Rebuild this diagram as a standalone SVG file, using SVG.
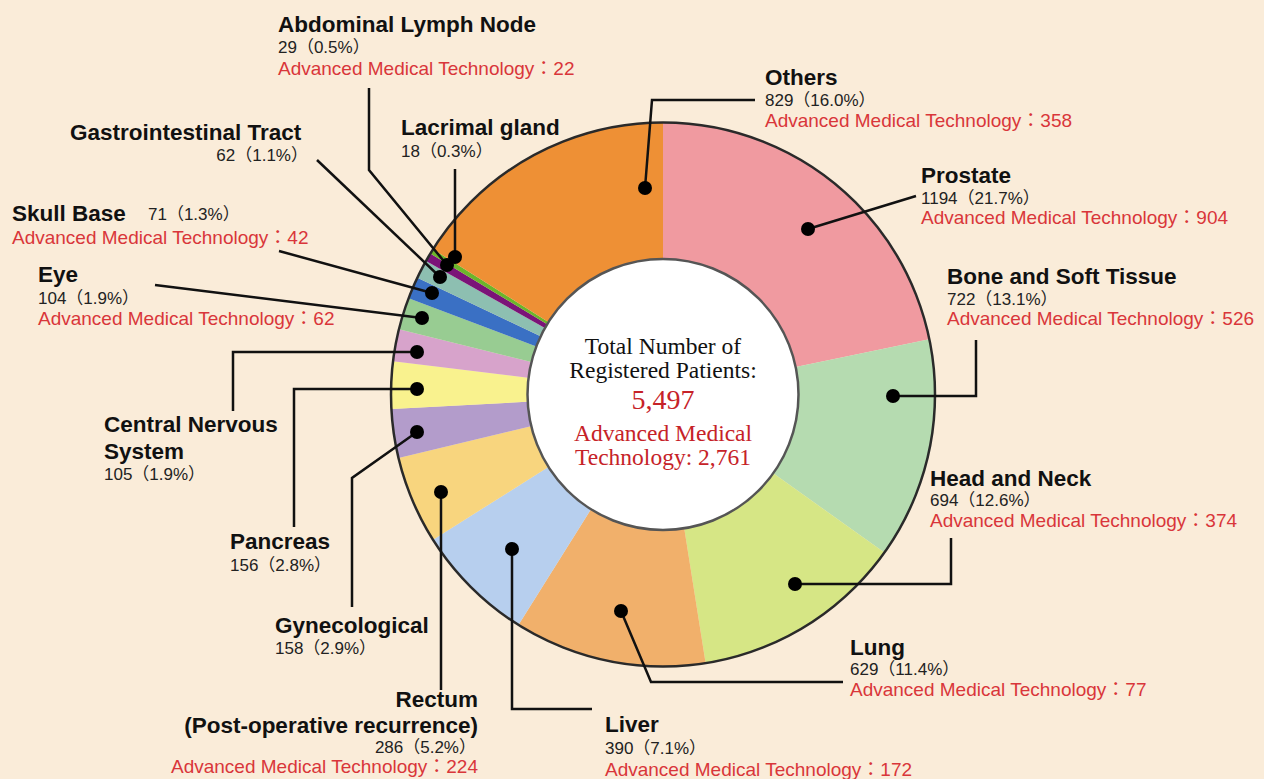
<svg xmlns="http://www.w3.org/2000/svg" width="1264" height="779" viewBox="0 0 1264 779">
<style>
.bg{fill:#faecd9}
.lbl{font-family:"Liberation Sans",Arial,sans-serif;font-weight:bold;font-size:22.5px;fill:#111}
.num{font-family:"Liberation Sans",Arial,"Noto Sans CJK JP",sans-serif;font-size:17px;fill:#222}
.red{font-family:"Liberation Sans",Arial,"Noto Sans CJK JP",sans-serif;font-size:19px;fill:#d9363a}
.ctr{font-family:"Liberation Serif","Times New Roman",serif;font-size:23.5px;fill:#111;text-anchor:middle}
.ctrred{fill:#c62228}
.lead{fill:none;stroke:#111;stroke-width:2.5;stroke-linejoin:miter}
.dot{fill:#000}
</style>
<rect class="bg" x="0" y="0" width="1264" height="779"/>
<g id="pie">
<path d="M663 394.5 L663 122.5 A272 272 0 0 1 929.32 339.23 Z" fill="#f09aa0"/>
<path d="M663 394.5 L929.32 339.23 A272 272 0 0 1 884.33 552.6 Z" fill="#b5dbb0"/>
<path d="M663 394.5 L884.33 552.6 A272 272 0 0 1 705.64 663.14 Z" fill="#d6e685"/>
<path d="M663 394.5 L705.64 663.14 A272 272 0 0 1 518.43 624.9 Z" fill="#f1b06b"/>
<path d="M663 394.5 L518.43 624.9 A272 272 0 0 1 433.03 539.76 Z" fill="#b7cfee"/>
<path d="M663 394.5 L433.03 539.76 A272 272 0 0 1 398.54 458.12 Z" fill="#f8d57e"/>
<path d="M663 394.5 L398.54 458.12 A272 272 0 0 1 391.39 409.05 Z" fill="#b39ccb"/>
<path d="M663 394.5 L391.39 409.05 A272 272 0 0 1 393.05 361.19 Z" fill="#f9f28e"/>
<path d="M663 394.5 L393.05 361.19 A272 272 0 0 1 398.95 329.21 Z" fill="#d7a3cb"/>
<path d="M663 394.5 L398.95 329.21 A272 272 0 0 1 408.63 298.17 Z" fill="#98cc92"/>
<path d="M663 394.5 L408.63 298.17 A272 272 0 0 1 417.35 277.7 Z" fill="#3a70c4"/>
<path d="M663 394.5 L417.35 277.7 A272 272 0 0 1 426.02 260.99 Z" fill="#8dbfb1"/>
<path d="M663 394.5 L426.02 260.99 A272 272 0 0 1 430.35 253.59 Z" fill="#7b1378"/>
<path d="M663 394.5 L430.35 253.59 A272 272 0 0 1 433.05 249.21 Z" fill="#6cb52b"/>
<path d="M663 394.5 L433.05 249.21 A272 272 0 0 1 663 122.5 Z" fill="#ee9035"/>
<circle cx="663" cy="394.5" r="272" fill="none" stroke="#2a2a2a" stroke-width="2.5"/>
</g>
<g id="center">
<circle cx="663" cy="394.5" r="135.5" fill="#fff" stroke="#555" stroke-width="2.5"/>
<text class="ctr" x="663" y="354">Total Number of</text>
<text class="ctr" x="663" y="378">Registered Patients:</text>
<text class="ctr ctrred" x="663" y="409" style="font-size:28px">5,497</text>
<text class="ctr ctrred" x="663" y="441">Advanced Medical</text>
<text class="ctr ctrred" x="663" y="465">Technology: 2,761</text>
</g>
<g id="connectors">
<polyline class="lead" points="645,188 652,100 755,100"/>
<polyline class="lead" points="808,229 916,196"/>
<polyline class="lead" points="893,396 976,396 976,340"/>
<polyline class="lead" points="795,584 951,584 951,538"/>
<polyline class="lead" points="621,611 651,682 843,682"/>
<polyline class="lead" points="512,549 512,709 592,709"/>
<polyline class="lead" points="441,492 441,690"/>
<polyline class="lead" points="417,432 352,478 352,607"/>
<polyline class="lead" points="417,389 294,389 294,527"/>
<polyline class="lead" points="417,352 233,352 233,411"/>
<polyline class="lead" points="422,318 155,285"/>
<polyline class="lead" points="432,293 279,251"/>
<polyline class="lead" points="440,277 317,160"/>
<polyline class="lead" points="447,265 369,170 369,88"/>
<polyline class="lead" points="455,257 455,169"/>
<circle class="dot" cx="645" cy="188" r="7"/>
<circle class="dot" cx="808" cy="229" r="7"/>
<circle class="dot" cx="893" cy="396" r="7"/>
<circle class="dot" cx="795" cy="584" r="7"/>
<circle class="dot" cx="621" cy="611" r="7"/>
<circle class="dot" cx="512" cy="549" r="7"/>
<circle class="dot" cx="441" cy="492" r="7"/>
<circle class="dot" cx="417" cy="432" r="7"/>
<circle class="dot" cx="417" cy="389" r="7"/>
<circle class="dot" cx="417" cy="352" r="7"/>
<circle class="dot" cx="422" cy="318" r="7"/>
<circle class="dot" cx="432" cy="293" r="7"/>
<circle class="dot" cx="440" cy="277" r="7"/>
<circle class="dot" cx="447" cy="265" r="7"/>
<circle class="dot" cx="455" cy="257" r="7"/>
</g>
<g id="others">
<text class="lbl" x="765" y="85">Others</text>
<text class="num" x="765" y="106">829（16.0%）</text>
<text class="red" x="765" y="127">Advanced Medical Technology：358</text>
</g>
<g id="prostate">
<text class="lbl" x="921" y="183">Prostate</text>
<text class="num" x="921" y="204">1194（21.7%）</text>
<text class="red" x="921" y="224">Advanced Medical Technology：904</text>
</g>
<g id="bone">
<text class="lbl" x="947" y="284">Bone and Soft Tissue</text>
<text class="num" x="947" y="305">722（13.1%）</text>
<text class="red" x="947" y="325">Advanced Medical Technology：526</text>
</g>
<g id="headneck">
<text class="lbl" x="930" y="486">Head and Neck</text>
<text class="num" x="930" y="506">694（12.6%）</text>
<text class="red" x="930" y="527">Advanced Medical Technology：374</text>
</g>
<g id="lung">
<text class="lbl" x="850" y="655">Lung</text>
<text class="num" x="850" y="675">629（11.4%）</text>
<text class="red" x="850" y="696">Advanced Medical Technology：77</text>
</g>
<g id="liver">
<text class="lbl" x="605" y="732">Liver</text>
<text class="num" x="605" y="754">390（7.1%）</text>
<text class="red" x="605" y="776">Advanced Medical Technology：172</text>
</g>
<g id="rectum">
<text class="lbl" x="478" y="707" text-anchor="end">Rectum</text>
<text class="lbl" x="478" y="733" text-anchor="end">(Post-operative recurrence)</text>
<text class="num" x="476" y="753" text-anchor="end">286（5.2%）</text>
<text class="red" x="478" y="773" text-anchor="end">Advanced Medical Technology：224</text>
</g>
<g id="gynecological">
<text class="lbl" x="275" y="633">Gynecological</text>
<text class="num" x="275" y="654">158（2.9%）</text>
</g>
<g id="pancreas">
<text class="lbl" x="230" y="549">Pancreas</text>
<text class="num" x="230" y="571">156（2.8%）</text>
</g>
<g id="cns">
<text class="lbl" x="104" y="432">Central Nervous</text>
<text class="lbl" x="104" y="459">System</text>
<text class="num" x="104" y="480">105（1.9%）</text>
</g>
<g id="eye">
<text class="lbl" x="38" y="282">Eye</text>
<text class="num" x="38" y="304">104（1.9%）</text>
<text class="red" x="38" y="325">Advanced Medical Technology：62</text>
</g>
<g id="skullbase">
<text class="lbl" x="12" y="221">Skull Base</text>
<text class="num" x="148" y="220">71（1.3%）</text>
<text class="red" x="12" y="244">Advanced Medical Technology：42</text>
</g>
<g id="gi">
<text class="lbl" x="70" y="140">Gastrointestinal Tract</text>
<text class="num" x="308" y="161" text-anchor="end">62（1.1%）</text>
</g>
<g id="lacrimal">
<text class="lbl" x="401" y="135">Lacrimal gland</text>
<text class="num" x="401" y="157">18（0.3%）</text>
</g>
<g id="abdominal">
<text class="lbl" x="278" y="32">Abdominal Lymph Node</text>
<text class="num" x="278" y="53">29（0.5%）</text>
<text class="red" x="278" y="75">Advanced Medical Technology：22</text>
</g>
</svg>
